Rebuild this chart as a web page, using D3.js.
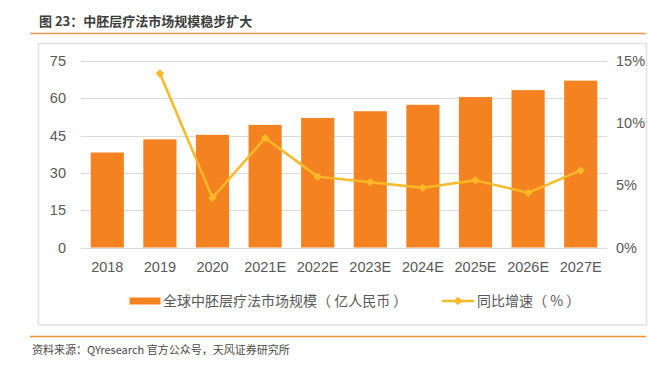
<!DOCTYPE html>
<html>
<head>
<meta charset="utf-8">
<script src="https://cdn.jsdelivr.net/npm/d3@7"></script>
<style>
  body { margin: 0; background: #fff; }
  svg { display: block; font-family: "Open Sans", "Noto Sans CJK SC", sans-serif; }
  .tick line { display: none; }
  .domain { display: none; }
</style>
</head>
<body>
<div id="chart"></div>
<script>
// data
var years = ["2018", "2019", "2020", "2021E", "2022E", "2023E", "2024E", "2025E", "2026E", "2027E"];
var marketSize = [38.2, 43.5, 45.3, 49.3, 52.1, 54.8, 57.4, 60.5, 63.3, 67.1];
var growthPct = [null, 14.0, 4.0, 8.8, 5.7, 5.25, 4.8, 5.4, 4.4, 6.2];
var leftTicks = [0, 15, 30, 45, 60, 75];
var rightTicks = [0, 5, 10, 15];

var W = 648, H = 368;
var plot = { left: 81, right: 607, top: 61, bottom: 247.5 };

var svg = d3.select("#chart").append("svg")
  .attr("width", W)
  .attr("height", H);

// title + rules
svg.append("text")
  .attr("x", 39).attr("y", 25.5)
  .attr("font-size", 13).attr("font-weight", "bold")
  .attr("fill", "#3d3d3d")
  .attr("font-family", "'Noto Sans CJK SC', sans-serif")
  .text("图 23：中胚层疗法市场规模稳步扩大");

svg.append("line")
  .attr("x1", 30).attr("x2", 646).attr("y1", 33.5).attr("y2", 33.5)
  .attr("stroke", "#f0984d").attr("stroke-width", 1.5);

svg.append("line")
  .attr("x1", 30).attr("x2", 646).attr("y1", 336.5).attr("y2", 336.5)
  .attr("stroke", "#f39035").attr("stroke-width", 1.5);

svg.append("text")
  .attr("x", 32).attr("y", 354)
  .attr("font-size", 11).attr("fill", "#4a4a4a")
  .attr("font-family", "'Noto Sans CJK SC', sans-serif")
  .text("资料来源：QYresearch 官方公众号，天风证券研究所");

// chart frame
svg.append("rect")
  .attr("x", 38.5).attr("y", 43.5)
  .attr("width", 608).attr("height", 281.5)
  .attr("fill", "#fff")
  .attr("stroke", "#e2e2e2").attr("stroke-width", 1.5);

var g = svg.append("g");

var x = d3.scaleBand()
  .domain(years)
  .range([plot.left, plot.right])
  .paddingInner(0.37)
  .paddingOuter(0.185);

var y = d3.scaleLinear().domain([0, 75]).range([plot.bottom, plot.top]);
var y2 = d3.scaleLinear().domain([0, 15]).range([plot.bottom, plot.top]);

// gridlines
g.append("g").selectAll("line")
  .data(leftTicks)
  .join("line")
  .attr("x1", plot.left).attr("x2", plot.right)
  .attr("y1", function(d) { return Math.round(y(d)) + 0.5; })
  .attr("y2", function(d) { return Math.round(y(d)) + 0.5; })
  .attr("stroke", "#d9d9d9").attr("stroke-width", 1.2);

// left axis
var yAxis = g.append("g")
  .attr("transform", "translate(" + (plot.left - 15) + ",0)")
  .call(d3.axisLeft(y).tickValues(leftTicks).tickSize(0).tickPadding(0));
yAxis.selectAll("text").attr("font-size", 14.5).attr("fill", "#595959");

// right axis
var y2Axis = g.append("g")
  .attr("transform", "translate(" + (plot.right + 9) + ",0)")
  .call(d3.axisRight(y2).tickValues(rightTicks).tickSize(0).tickPadding(0)
    .tickFormat(function(d) { return d + "%"; }));
y2Axis.selectAll("text").attr("font-size", 14.5).attr("fill", "#595959");

// x axis
var xAxis = g.append("g")
  .attr("transform", "translate(0," + (plot.bottom + 14.5) + ")")
  .call(d3.axisBottom(x).tickSize(0).tickPadding(0));
xAxis.selectAll("text").attr("font-size", 14.5).attr("fill", "#595959").attr("dy", "0.71em");

// bars
g.append("g").selectAll("rect")
  .data(marketSize)
  .join("rect")
  .attr("x", function(d, i) { return x(years[i]); })
  .attr("width", x.bandwidth())
  .attr("y", function(d) { return y(d); })
  .attr("height", function(d) { return y(0) - y(d); })
  .attr("fill", "#f58220");

// growth line
var pts = years.map(function(yr, i) { return { year: yr, v: growthPct[i] }; })
  .filter(function(d) { return d.v != null; });

var line = d3.line()
  .x(function(d) { return x(d.year) + x.bandwidth() / 2; })
  .y(function(d) { return y2(d.v); });

g.append("path")
  .datum(pts)
  .attr("d", line)
  .attr("fill", "none")
  .attr("stroke", "#fbb827")
  .attr("stroke-width", 2.5)
  .attr("stroke-linejoin", "round");

var diamond = d3.symbol().type(d3.symbolDiamond2).size(46);
g.append("g").selectAll("path")
  .data(pts)
  .join("path")
  .attr("d", diamond)
  .attr("transform", function(d) {
    return "translate(" + (x(d.year) + x.bandwidth() / 2) + "," + y2(d.v) + ")";
  })
  .attr("fill", "#fbb827");

// legend
var leg = g.append("g").attr("font-family", "'Noto Sans CJK SC', sans-serif");
leg.append("rect")
  .attr("x", 129.5).attr("y", 297.5).attr("width", 31).attr("height", 7)
  .attr("fill", "#f58220");
leg.append("text")
  .attr("x", 163).attr("y", 301).attr("dy", "0.35em")
  .attr("font-size", 14).attr("fill", "#595959")
  .text("全球中胚层疗法市场规模（ 亿人民币 ）");

leg.append("line")
  .attr("x1", 442).attr("x2", 474).attr("y1", 301).attr("y2", 301)
  .attr("stroke", "#fbb827").attr("stroke-width", 2.5);
leg.append("path")
  .attr("d", diamond)
  .attr("transform", "translate(458,301)")
  .attr("fill", "#fbb827");
leg.append("text")
  .attr("x", 477).attr("y", 301).attr("dy", "0.35em")
  .attr("font-size", 14).attr("fill", "#595959")
  .text("同比增速（ % ）");
</script>
</body>
</html>
